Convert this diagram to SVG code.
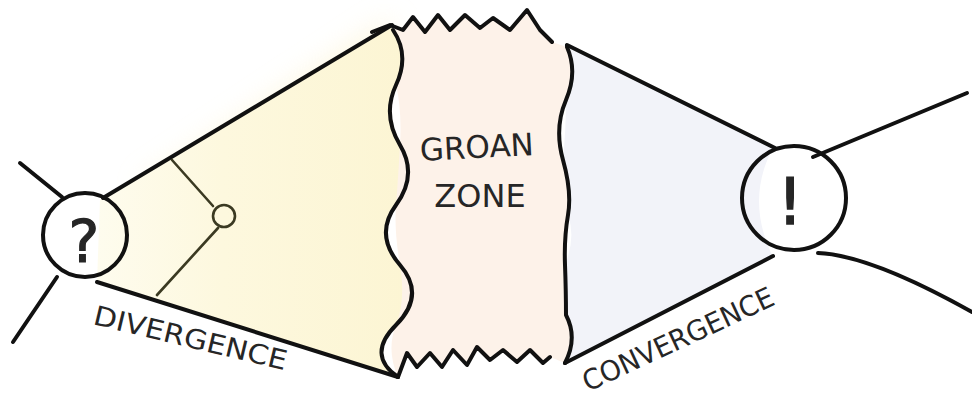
<svg xmlns="http://www.w3.org/2000/svg" width="972" height="398" viewBox="0 0 972 398">
<style>
.ink{fill:none;stroke:#111;stroke-width:4;stroke-linecap:round;stroke-linejoin:round}
.thin{fill:none;stroke:#3b3a22;stroke-width:2.6;stroke-linecap:round}
.hand{font-family:"DejaVu Sans","Liberation Sans",sans-serif;fill:#262626}
</style>
<defs>
<linearGradient id="yel" x1="0" y1="0" x2="1" y2="0">
<stop offset="0" stop-color="#fefcee"/>
<stop offset="0.4" stop-color="#fdf8de"/>
<stop offset="1" stop-color="#fcf5d3"/>
</linearGradient>
<filter id="blur" x="-30%" y="-30%" width="160%" height="160%"><feGaussianBlur stdDeviation="14"/></filter>
</defs>
<rect width="972" height="398" fill="#ffffff"/>
<polygon points="140,185 392,18 392,60 170,205" fill="#fcf3cc" opacity="0.6" filter="url(#blur)"/>

<g id="region-divergence">
<path d="M100,200 L392,25 L393,30 Q410,55 396,85 T400,145 T396,205 T400,265 T396,325 T398,377 L97,282 Z" fill="url(#yel)"/>
</g>
<g id="region-convergence">
<path d="M567,45 L773,148 Q745,200 773,257 L565,363 Q578,338 566,315 T565,265 T568,215 T563,160 T566,100 T567,45 Z" fill="#f2f3f9"/>
</g>

<g id="node-groan">
<path d="M390,25 L403,30 L413,17 L425,32 L438,15 L450,30 L465,15 L480,28 L493,18 L510,30 L527,10 L540,30 L552,42 L567,47 Q578,72 566,100 T563,160 T568,215 T565,265 T566,315 Q578,338 565,363 L550,357 L543,363 L530,350 L517,362 L503,350 L490,360 L477,347 L467,365 L453,350 L442,367 L430,353 L417,367 L407,353 L398,377 Q386,350 396,325 T400,265 T396,205 T400,145 T396,85 Q410,55 393,30 Z" fill="#fdf2e9"/>
<path class="ink" d="M393,30 Q410,55 396,85 T400,145 T396,205 T400,265 T396,325 T398,377"/>
<path class="ink" d="M567,47 Q578,72 566,100 T563,160 T568,215 T565,265 T566,315 Q578,338 565,363"/>
<path class="ink" d="M372,32 L390,25 L403,30 L413,17 L425,32 L438,15 L450,30 L465,15 L480,28 L493,18 L510,30 L527,10 L540,30 L552,42"/>
<path class="ink" d="M398,377 L407,353 L417,367 L430,353 L442,367 L453,350 L467,365 L477,347 L490,360 L503,350 L517,362 L530,350 L543,363 L550,357"/>
<text class="hand" x="477" y="158" font-size="31" text-anchor="middle" transform="rotate(-3 477 150)">GROAN</text>
<text class="hand" x="480" y="207" font-size="32" text-anchor="middle">ZONE</text>
</g>

<g id="node-question">
<circle class="ink" cx="85" cy="235" r="42" fill="#ffffff"/>
<text class="hand" x="84" y="262" font-size="58" text-anchor="middle" stroke="#262626" stroke-width="1.2">?</text>
</g>

<g id="node-exclaim">
<circle class="ink" cx="794" cy="198" r="52" fill="#ffffff"/>
<text class="hand" x="790" y="224" font-size="64" text-anchor="middle" stroke="#262626" stroke-width="1.5">!</text>
</g>

<g id="connectors">
<line class="ink" x1="20" y1="163" x2="62" y2="197"/>
<line class="ink" x1="57" y1="277" x2="13" y2="342"/>
<line class="ink" x1="103" y1="198" x2="392" y2="25"/>
<line class="ink" x1="97" y1="282" x2="398" y2="377"/>
<line class="thin" x1="172" y1="160" x2="213" y2="206"/>
<circle class="thin" cx="224" cy="216" r="11" fill="#fdfbee"/>
<line class="thin" x1="218" y1="228" x2="157" y2="295"/>
<line class="ink" x1="567" y1="45" x2="775" y2="148"/>
<line class="ink" x1="565" y1="363" x2="773" y2="256"/>
<line class="ink" x1="813" y1="157" x2="967" y2="93"/>
<path class="ink" d="M818,253 Q870,255 972,312"/>
</g>

<g id="labels">
<text class="hand" x="92" y="324" font-size="27" textLength="198" lengthAdjust="spacingAndGlyphs" transform="rotate(13.5 92 324)">DIVERGENCE</text>
<text class="hand" x="588" y="392" font-size="28" textLength="208" lengthAdjust="spacingAndGlyphs" transform="rotate(-25 588 392)">CONVERGENCE</text>
</g>
</svg>
